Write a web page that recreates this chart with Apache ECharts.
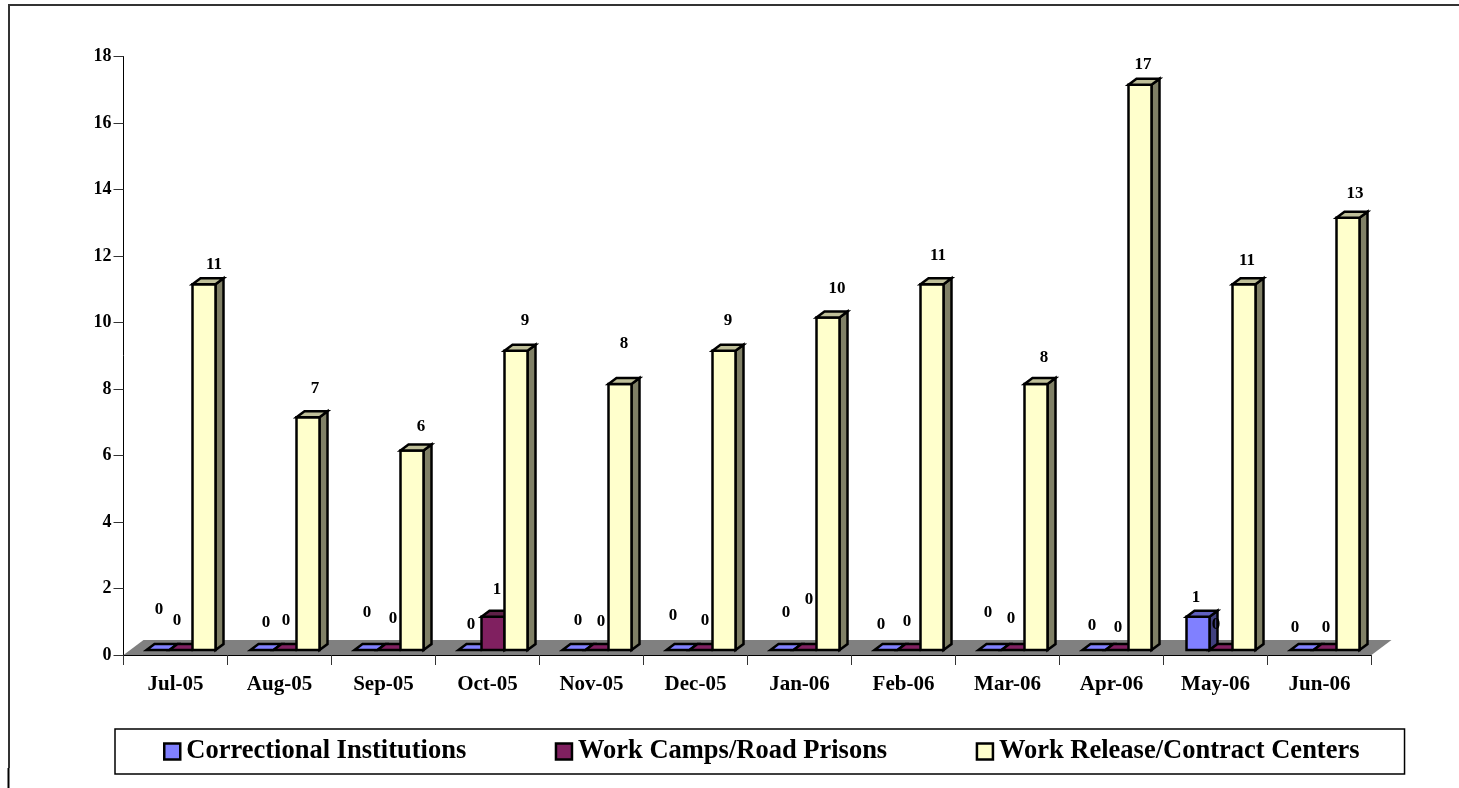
<!DOCTYPE html>
<html><head><meta charset="utf-8">
<style>html,body{margin:0;padding:0;background:#fff}#c{width:1459px;height:788px}</style>
<script src="https://cdn.jsdelivr.net/npm/echarts@6/dist/echarts.min.js"></script>
</head><body><div id="c"></div>
<script>
const categories = ['Jul-05','Aug-05','Sep-05','Oct-05','Nov-05','Dec-05','Jan-06','Feb-06','Mar-06','Apr-06','May-06','Jun-06'];
const correctional = [0,0,0,0,0,0,0,0,0,0,1,0];
const workCamps = [0,0,0,1,0,0,0,0,0,0,0,0];
const workRelease = [11,7,6,9,8,9,10,11,8,17,11,13];
const yTicks = {min:0,max:18,interval:2};

// Hand-placed data-label nudges (px), kept apart from the values
const nudgeCorrectional = [[-16.5,-45],[-13.5,-32],[-16.5,-42],[-16.5,-30],[-13.5,-34],[-22.5,-39],[-13.5,-42],[-22.5,-30],[-19.5,-42],[-19.5,-29],[-19.5,-24],[-24.5,-27]];
const nudgeCamps = [[1.5,-34],[6.5,-34],[9.5,-36],[9.5,-32],[9.5,-33],[9.5,-34],[9.5,-55],[3.5,-33],[3.5,-36],[6.5,-27],[0.5,-30],[6.5,-27]];
const nudgeRelease = [[38.5,-25],[35.5,-34],[37.5,-28.5],[37.5,-35],[32.5,-45],[32.5,-35],[37.5,-34],[34.5,-34],[36.5,-31],[31.5,-25],[31.5,-29],[35.5,-29]];

const FONT = '"Liberation Serif", serif';
const BW = 23, DX = 8, DY = 6, LIFT = 5;

function barSeries(name, values, nudges, barLeft, front, top, side) {
  return {
    type: 'custom', name, coordinateSystem: 'cartesian2d', z: 3, clip: false,
    data: values.map((v, i) => [i, v]),
    encode: {x: 0, y: 1},
    itemStyle: {color: front},
    renderItem(params, api) {
      const i = api.value(0), v = api.value(1);
      const p = api.coord([i, v]), b = api.coord([i, 0]);
      const x0 = p[0] + barLeft, x1 = x0 + BW;
      const yT = p[1] - LIFT, yB = b[1] - LIFT;
      const ln = {stroke: '#000', lineWidth: 2.5, lineJoin: 'miter'};
      const kids = [];
      if (v > 0) {
        kids.push({type:'polygon', shape:{points:[[x1,yT],[x1+DX,yT-DY],[x1+DX,yB-DY],[x1,yB]]}, style:{fill:side, ...ln}});
        kids.push({type:'rect', shape:{x:x0,y:yT,width:BW,height:yB-yT}, style:{fill:front, ...ln}});
      }
      kids.push({type:'polygon', shape:{points:[[x0,yT],[x0+DX,yT-DY],[x1+DX,yT-DY],[x1,yT]]}, style:{fill: v > 0 ? top : front, ...ln}});
      const n = nudges[i];
      kids.push({type:'text', z2: 10, style:{x:p[0]+n[0], y:p[1]+n[1], text:String(v), fill:'#000',
        font:'bold 17px '+FONT, align:'center', verticalAlign:'middle'}});
      return {type:'group', children:kids};
    }
  };
}

const option = {
  animation: false,
  backgroundColor: '#fff',
  graphic: [
    {type:'polyline', z:0, shape:{points:[[9,768],[9,5],[1459,5]]}, style:{stroke:'#333', lineWidth:2, fill:null}},
    {type:'line', z:0, shape:{x1:8.5,y1:768,x2:8.5,y2:788}, style:{stroke:'#000', lineWidth:2}}
  ],
  grid: {left:123.5, right:87.5, top:56.5, bottom:133},
  xAxis: {
    type:'category', data:categories, boundaryGap:true,
    axisLine:{lineStyle:{color:'#000',width:1}},
    axisTick:{show:true, alignWithLabel:false, length:10, lineStyle:{color:'#333',width:1}},
    axisLabel:{color:'#000', fontFamily:FONT, fontWeight:'bold', fontSize:21, margin:19, interval:0}
  },
  yAxis: {
    type:'value', min:yTicks.min, max:yTicks.max, interval:yTicks.interval,
    splitLine:{show:false},
    axisLine:{show:true, lineStyle:{color:'#000',width:1}},
    axisTick:{show:true, length:10, lineStyle:{color:'#333',width:1}},
    axisLabel:{color:'#000', fontFamily:FONT, fontWeight:'bold', fontSize:18, margin:12}
  },
  legend: {
    left:115, top:729, orient:'horizontal',
    padding:[9,45,9,48], itemGap:88.5,
    borderColor:'#000', borderWidth:1.5, backgroundColor:'#fff',
    itemWidth:16, itemHeight:16, icon:'rect',
    textStyle:{color:'#000', fontFamily:FONT, fontWeight:'bold', fontSize:26.5, padding:[0,0,0,1]},
    data:[
      {name:'Correctional Institutions', itemStyle:{color:'#8080FF',borderColor:'#000',borderWidth:2.5}},
      {name:'Work Camps/Road Prisons', itemStyle:{color:'#802060',borderColor:'#000',borderWidth:2.5}},
      {name:'Work Release/Contract Centers', itemStyle:{color:'#FFFFCC',borderColor:'#000',borderWidth:2.5}}
    ]
  },
  series: [
    {
      type:'custom', name:'floor', z:1, silent:true, clip:false,
      data:[[0,0]], encode:{x:0,y:1},
      renderItem(params, api) {
        const a = api.coord([0,0]), n = categories.length;
        const band = api.size([1,0])[0];
        const xL = a[0]-band/2, xR = xL + band*n, y = a[1];
        return {type:'polygon', shape:{points:[[xL,y],[xL+20,y-15],[xR+20,y-15],[xR,y]]}, style:{fill:'#808080'}};
      }
    },
    barSeries('Correctional Institutions', correctional, nudgeCorrectional, -29, '#8080FF', '#6060C0', '#40407F'),
    barSeries('Work Camps/Road Prisons', workCamps, nudgeCamps, -6, '#802060', '#602048', '#401030'),
    barSeries('Work Release/Contract Centers', workRelease, nudgeRelease, 17, '#FFFFCC', '#BFBF99', '#808066')
  ]
};
echarts.init(document.getElementById('c')).setOption(option);
</script></body></html>
